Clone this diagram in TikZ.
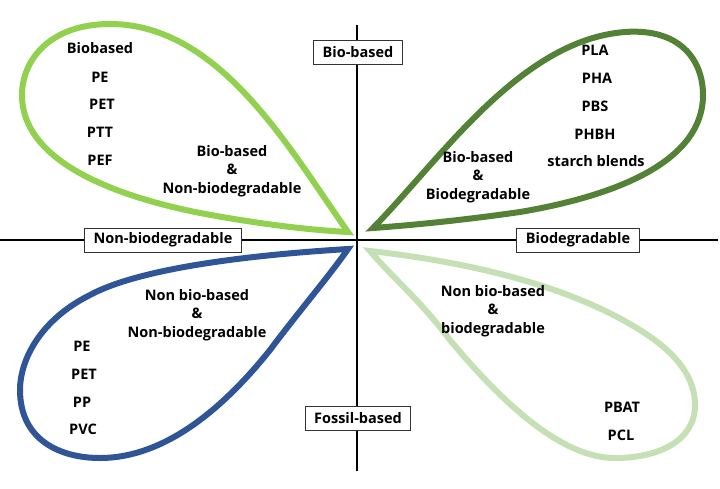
\documentclass[tikz,border=0pt]{standalone}
\usepackage{fontspec}
\setmainfont{Open Sans}
\usepackage{xcolor}
\usepackage{tikz}
\usetikzlibrary{positioning}

\definecolor{leafLime}{HTML}{92D050}
\definecolor{leafDark}{HTML}{538135}
\definecolor{leafBlue}{HTML}{2F5597}
\definecolor{leafPale}{HTML}{C5E0B4}

\begin{document}
\begin{tikzpicture}[x=1pt, y=-1pt,
  axislabel/.style={draw=black!80, line width=0.8pt, fill=white, minimum height=24pt, inner xsep=9pt, inner ysep=0pt, font=\bfseries\fontsize{14.5}{16}\selectfont},
  txt/.style={font=\bfseries\fontsize{14.5}{18.5}\selectfont, align=center, inner sep=0pt},
  petal/.style={line width=6pt, line join=miter, miter limit=20}]
\useasboundingbox (0,0) rectangle (720,488);
% axes
\coordinate (top) at (357,25);
\coordinate (bottom) at (357,471);
\coordinate (left) at (0,240);
\coordinate (right) at (718,240);
\draw[line width=2.5pt] (top) -- (bottom);
\draw[line width=2.5pt] (left) -- (right);
% petals
\draw[petal, leafLime] (348,232) .. controls (290,150) and (220,24) .. (110,24)
  .. controls (50,24) and (22,60) .. (22,95)
  .. controls (22,160) and (110,195) .. (200,213)
  .. controls (280,228) and (330,231) .. cycle;
\draw[petal, leafDark] (373,228) .. controls (440,160) and (520,40) .. (625,32)
  .. controls (680,28) and (703,60) .. (703,95)
  .. controls (703,160) and (620,195) .. (520,212)
  .. controls (450,222) and (400,226) .. cycle;
\draw[petal, leafBlue] (348,249) .. controls (250,255) and (140,268) .. (90,295)
  .. controls (40,320) and (20,360) .. (20,390)
  .. controls (20,440) and (60,458) .. (100,458)
  .. controls (170,458) and (230,400) .. (270,350)
  .. controls (300,310) and (330,275) .. cycle;
\draw[petal, leafPale] (370,251) .. controls (450,260) and (560,280) .. (640,330)
  .. controls (680,355) and (695,380) .. (695,405)
  .. controls (695,440) and (660,458) .. (615,458)
  .. controls (560,458) and (500,400) .. (450,340)
  .. controls (420,300) and (390,275) .. cycle;
% axis labels
\node[axislabel] (biobased) at (358,52) {Bio-based};
\node[axislabel] (fossil) at (358,418) {Fossil-based};
\node[axislabel] (nonbio) at (163,240) {Non-biodegradable};
\node[axislabel] (biodeg) at (578,240) {Biodegradable};
% top left
\node[txt] (tlhead) at (100,48) {Biobased};
\node[txt] (tlpe) at (100,77) {PE};
\node[txt] (tlpet) at (102,104) {PET};
\node[txt] (tlptt) at (100,132) {PTT};
\node[txt] (tlpef) at (100,160) {PEF};
\node[txt] (tlcat) at (232,171) {Bio-based\\\&\\Non-biodegradable};
% top right
\node[txt] (trpla) at (595,50) {PLA};
\node[txt] (trpha) at (597,78) {PHA};
\node[txt] (trpbs) at (595,106) {PBS};
\node[txt] (trphbh) at (595,134) {PHBH};
\node[txt] (trstarch) at (596,161) {starch blends};
\node[txt] (trcat) at (478,177) {Bio-based\\\&\\Biodegradable};
% bottom left
\node[txt] (blcat) at (197,315) {Non bio-based\\\&\\Non-biodegradable};
\node[txt] (blpe) at (82,346) {PE};
\node[txt] (blpet) at (84,374) {PET};
\node[txt] (blpp) at (82,402) {PP};
\node[txt] (blpvc) at (83,429) {PVC};
% bottom right
\node[txt] (brcat) at (493,311) {Non bio-based\\\&\\biodegradable};
\node[txt] (brpbat) at (622,407) {PBAT};
\node[txt] (brpcl) at (621,435) {PCL};
\end{tikzpicture}
\end{document}
